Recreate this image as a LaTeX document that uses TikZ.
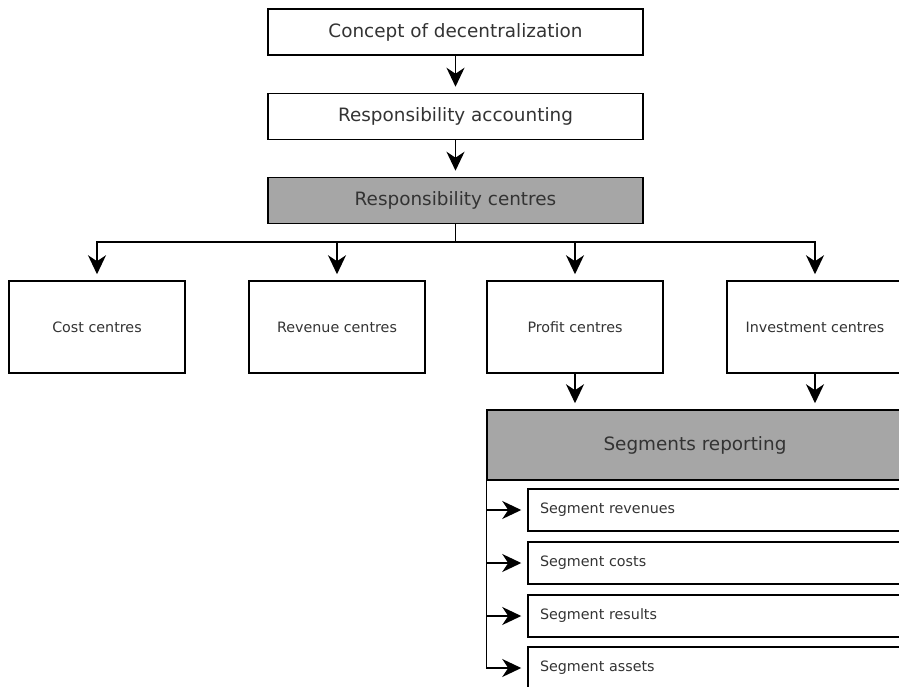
\documentclass[tikz,border=0pt]{standalone}
\usepackage{fontspec}
\setmainfont{DejaVu Sans}
\usetikzlibrary{arrows.meta}
\definecolor{boxgrey}{HTML}{A6A6A6}
\definecolor{txtgrey}{HTML}{333333}
\begin{document}
\begin{tikzpicture}[x=1pt, y=-1pt,
            topbox/.style={draw, rectangle, line width=1.5pt, inner sep=0pt, minimum width=375pt, minimum height=46pt, text=txtgrey, font=\fontsize{18.4}{22}\selectfont},
            centrebox/.style={draw, rectangle, line width=1.5pt, inner sep=0pt, minimum width=176pt, minimum height=92pt, text=txtgrey, font=\fontsize{14.3}{17}\selectfont},
            subbox/.style={draw, rectangle, line width=1.5pt, inner sep=0pt, minimum width=375pt, minimum height=42pt, text width=351pt, align=left, text=txtgrey, font=\fontsize{14.3}{17}\selectfont},
            arrow/.style={-{Stealth[length=19pt, width=18pt, inset=6pt]}, line width=1.5pt, shorten >=6pt}
        ]

% Page frame
            \useasboundingbox (0,0) rectangle (899,687);
            \clip (0,0) rectangle (899,687);

% Top chain
            \node (concept) [topbox] at (455.5,32) {Concept of decentralization};
            \node (accounting) [topbox] at (455.5,116.5) {Responsibility accounting};
            \node (centres) [topbox, fill=boxgrey] at (455.5,200.5) {Responsibility centres};

% Kinds of centres
            \node (cost) [centrebox] at (97,327) {Cost centres};
            \node (revenue) [centrebox] at (337,327) {Revenue centres};
            \node (profit) [centrebox] at (575,327) {Profit centres};
            \node (investment) [centrebox] at (815,327) {Investment centres};

% Segment reporting block
            \node (segments) [topbox, fill=boxgrey, minimum width=416pt, minimum height=70pt] at (695,445) {Segments reporting};
            \node (segrev) [subbox] at (715.5,510) {Segment revenues};
            \node (segcost) [subbox] at (715.5,563) {Segment costs};
            \node (segres) [subbox] at (715.5,616) {Segment results};
            \node (segassets) [subbox] at (715.5,668) {Segment assets};

% Branch point under responsibility centres
            \coordinate (split) at (455.5,242);

% Arrows
            \draw [arrow] (concept) -- (accounting);
            \draw [arrow] (accounting) -- (centres);
            \draw [line width=1.5pt] (centres.south) -- (split);
            \draw [arrow] (split) -| (cost.north);
            \draw [arrow] (split) -| (revenue.north);
            \draw [arrow] (split) -| (profit.north);
            \draw [arrow] (split) -| (investment.north);
            \draw [arrow] (profit) -- (profit |- segments.north);
            \draw [arrow] (investment) -- (investment |- segments.north);

% Spine down the left of the segments
            \draw [arrow] (segments.south west) |- (segrev.west);
            \draw [arrow] (segments.south west) |- (segcost.west);
            \draw [arrow] (segments.south west) |- (segres.west);
            \draw [arrow] (segments.south west) |- (segassets.west);

        \end{tikzpicture}
\end{document}
